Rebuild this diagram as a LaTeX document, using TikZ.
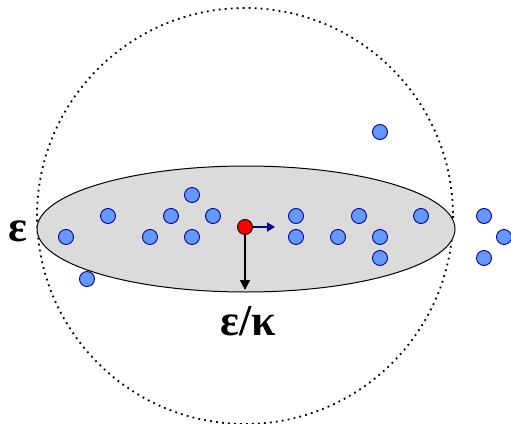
\documentclass[tikz,border=0pt]{standalone}
\usepackage{fontspec}
\setmainfont{Liberation Serif}
\usetikzlibrary{arrows.meta}
\definecolor{dotfill}{HTML}{6699FF}
\definecolor{dotline}{HTML}{000099}
\begin{document}
\begin{tikzpicture}[x=1pt,y=-1pt,
  pt/.style={circle,draw=dotline,fill=dotfill,line width=0.9pt,minimum size=15pt,inner sep=0pt},
  lbl/.style={font=\bfseries\fontsize{44}{46}\selectfont,inner sep=0pt}]
\useasboundingbox (0,0) rectangle (511,423);
\fill[white] (0,0) rectangle (511,423);
\draw[line width=1.8pt,dash pattern=on 1.8pt off 4.2pt] (245,216) circle (208);
\draw[fill=black!14,line width=1pt] (246,229) ellipse (209 and 63);
\foreach \n/\x/\y in {a/380/132,b/192/195,c/108/216,d/171/216,e/213/216,f/296/216,g/359/216,h/421/216,i/484/216,j/66/237,k/150/237,l/192/237,m/296/237,n/338/237,o/380/237,p/504/237,q/380/258,r/484/258,s/87/279}
  \node[pt] (\n) at (\x,\y) {};
\node[pt,fill=red,draw=black] (c0) at (245,227) {};
\coordinate (ar) at (275,227);
\coordinate (ad) at (245,290);
\draw[dotline,line width=1.8pt,-{Triangle[length=8pt,width=9pt]}] (c0.east) -- (ar);
\draw[black,line width=1.4pt,-{Triangle[length=10pt,width=10pt]}] (c0.south) -- (ad);
\node[lbl] (eps) at (18,231) {ε};
\node[lbl] (ek) at (248,321) {ε/κ};
\end{tikzpicture}
\end{document}
